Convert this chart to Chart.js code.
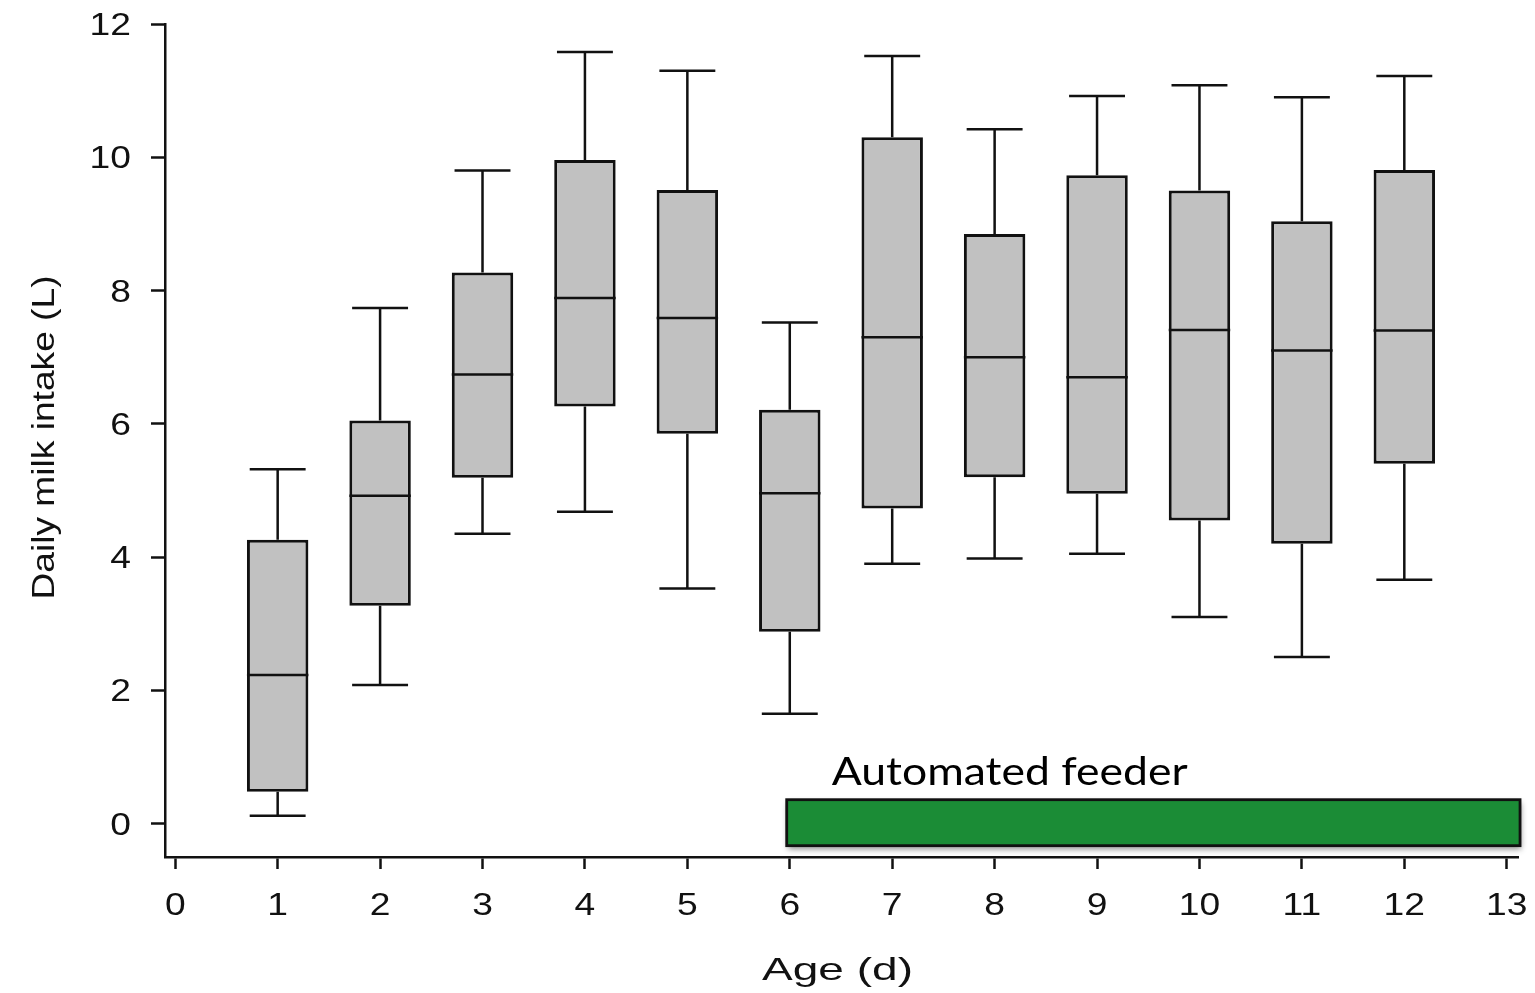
<!DOCTYPE html>
<html>
<head>
<meta charset="utf-8">
<title>Daily milk intake by age</title>
<script src="https://cdn.jsdelivr.net/npm/chart.js@4.4.1/dist/chart.umd.min.js"></script>
<style>
  html, body { margin: 0; padding: 0; background: #ffffff; }
  #wrap { width: 1535px; height: 993px; }
</style>
</head>
<body>
<div id="wrap"><canvas id="c" width="1535" height="993"></canvas></div>
<script>
// Age of the calves (days) and the five-number summary of daily milk intake (L)
const days        = [1, 2, 3, 4, 5, 6, 7, 8, 9, 10, 11, 12];
const whiskerLow  = [0.12, 2.08, 4.35, 4.68, 3.53, 1.65, 3.90, 3.98, 4.05, 3.10, 2.50, 3.66];
const quartile1   = [0.48, 3.27, 5.19, 6.26, 5.85, 2.88, 4.73, 5.20, 4.95, 4.55, 4.20, 5.40];
const medians     = [2.23, 4.92, 6.74, 7.89, 7.59, 4.96, 7.30, 7.00, 6.70, 7.41, 7.10, 7.40];
const quartile3   = [4.26, 6.05, 8.27, 9.96, 9.51, 6.21, 10.30, 8.85, 9.73, 9.50, 9.04, 9.81];
const whiskerHigh = [5.32, 7.74, 9.80, 11.58, 11.30, 7.52, 11.52, 10.42, 10.92, 11.08, 10.90, 11.22];

// Axis ticks
const xTickValues = [0, 1, 2, 3, 4, 5, 6, 7, 8, 9, 10, 11, 12, 13];
const yTickValues = [0, 2, 4, 6, 8, 10, 12];

// Period on the automated feeder (days) and the band it occupies (L units)
const feederDays = [5.97, 13.13];
const feederBand = [-0.33, 0.36];

// Texts
const feederLabel = 'Automated feeder';
const xTitle = 'Age (d)';
const yTitle = 'Daily milk intake (L)';

const AXIS_FONT = '"Liberation Sans", Arial, Helvetica, sans-serif';
const LABEL_FONT = 'Lato, "Open Sans", sans-serif';
const INK = '#111';

// Draws text widened horizontally along its own direction.
function wideText(ctx, text, x, y, o) {
  ctx.save();
  ctx.translate(x, y);
  if (o.rotate) ctx.rotate(o.rotate);
  ctx.font = o.size + 'px ' + o.family;
  const w = ctx.measureText(text).width;
  const sx = o.width ? o.width / w : (o.stretch || 1);
  ctx.scale(sx, 1);
  ctx.fillStyle = o.color || INK;
  ctx.textAlign = o.align || 'left';
  ctx.textBaseline = 'alphabetic';
  ctx.fillText(text, 0, 0);
  ctx.restore();
}

const boxPlotExtras = {
  id: 'boxPlotExtras',
  afterDatasetsDraw(chart) {
    const ctx = chart.ctx;
    const xs = chart.scales.x, ys = chart.scales.y;
    const meta = chart.getDatasetMeta(0);

    // whiskers, caps and medians
    ctx.save();
    ctx.strokeStyle = INK;
    ctx.lineCap = 'butt';
    days.forEach((d, i) => {
      const bar = meta.data[i];
      const cx = xs.getPixelForValue(d);
      const half = bar.width / 2;
      const capHalf = half * 0.91;
      const yLo = ys.getPixelForValue(whiskerLow[i]);
      const yQ1 = ys.getPixelForValue(quartile1[i]);
      const yMed = ys.getPixelForValue(medians[i]);
      const yQ3 = ys.getPixelForValue(quartile3[i]);
      const yHi = ys.getPixelForValue(whiskerHigh[i]);
      ctx.lineWidth = 2.5;
      ctx.beginPath();
      ctx.moveTo(cx, yQ3); ctx.lineTo(cx, yHi);
      ctx.moveTo(cx - capHalf, yHi); ctx.lineTo(cx + capHalf, yHi);
      ctx.moveTo(cx, yQ1); ctx.lineTo(cx, yLo);
      ctx.moveTo(cx - capHalf, yLo); ctx.lineTo(cx + capHalf, yLo);
      ctx.stroke();
      ctx.lineWidth = 2.5;
      ctx.beginPath();
      ctx.moveTo(cx - half, yMed); ctx.lineTo(cx + half, yMed);
      ctx.stroke();
    });
    ctx.restore();

    // automated feeder bar
    const fx0 = xs.getPixelForValue(feederDays[0]);
    const fx1 = xs.getPixelForValue(feederDays[1]);
    const fy0 = ys.getPixelForValue(feederBand[1]);
    const fy1 = ys.getPixelForValue(feederBand[0]);
    ctx.save();
    ctx.shadowColor = 'rgba(0,0,0,0.45)';
    ctx.shadowBlur = 6;
    ctx.shadowOffsetX = 1;
    ctx.shadowOffsetY = 3;
    ctx.fillStyle = '#1b8c36';
    ctx.fillRect(fx0, fy0, fx1 - fx0, fy1 - fy0);
    ctx.restore();
    ctx.save();
    ctx.strokeStyle = INK;
    ctx.lineWidth = 2.8;
    ctx.strokeRect(fx0, fy0, fx1 - fx0, fy1 - fy0);
    ctx.restore();

    wideText(ctx, feederLabel, fx0 + 45, fy0 - 15,
      { size: 39, family: LABEL_FONT, width: 356, color: '#000' });
  },
  afterDraw(chart) {
    const ctx = chart.ctx;
    const xs = chart.scales.x, ys = chart.scales.y;
    const area = chart.chartArea;

    // tick labels
    xs.ticks.forEach(t => {
      wideText(ctx, String(t.value), xs.getPixelForValue(t.value), area.bottom + 58,
        { size: 31, family: AXIS_FONT, stretch: 1.2, align: 'center' });
    });
    ys.ticks.forEach(t => {
      wideText(ctx, String(t.value), area.left - 34, ys.getPixelForValue(t.value) + 11,
        { size: 31, family: AXIS_FONT, stretch: 1.2, align: 'right' });
    });

    // axis titles
    wideText(ctx, xTitle, (area.left + area.right) / 2 - 4, area.bottom + 123,
      { size: 32, family: AXIS_FONT, width: 151, align: 'center' });
    wideText(ctx, yTitle, 54, (area.top + area.bottom) / 2 - 3,
      { size: 31, family: AXIS_FONT, width: 324, align: 'center', rotate: -Math.PI / 2 });
  }
};

new Chart(document.getElementById('c'), {
  type: 'bar',
  data: {
    datasets: [{
      label: 'Daily milk intake',
      data: days.map((d, i) => ({ x: d, y: [quartile1[i], quartile3[i]] })),
      backgroundColor: '#c1c1c1',
      borderColor: INK,
      borderWidth: 3,
      borderSkipped: false,
      barPercentage: 0.6,
      categoryPercentage: 1.0
    }]
  },
  options: {
    responsive: false,
    animation: false,
    events: [],
    layout: { padding: { left: 151, top: 24, right: 17, bottom: 124 } },
    plugins: { legend: { display: false }, tooltip: { enabled: false }, title: { display: false } },
    scales: {
      x: {
        type: 'linear',
        min: -0.1,
        max: 13.11,
        offset: false,
        afterBuildTicks: axis => { axis.ticks = xTickValues.map(v => ({ value: v })); },
        ticks: { display: false },
        grid: {
          offset: false,
          drawOnChartArea: false,
          drawTicks: true,
          tickLength: 12,
          tickWidth: 2.5,
          tickColor: INK
        },
        border: { display: true, color: INK, width: 2.5 }
      },
      y: {
        type: 'linear',
        min: -0.5,
        max: 12,
        afterBuildTicks: axis => { axis.ticks = yTickValues.map(v => ({ value: v })); },
        ticks: { display: false },
        grid: {
          drawOnChartArea: false,
          drawTicks: true,
          tickLength: 14,
          tickWidth: 2.5,
          tickColor: INK
        },
        border: { display: true, color: INK, width: 2.5 }
      }
    }
  },
  plugins: [boxPlotExtras]
});
</script>
</body>
</html>
